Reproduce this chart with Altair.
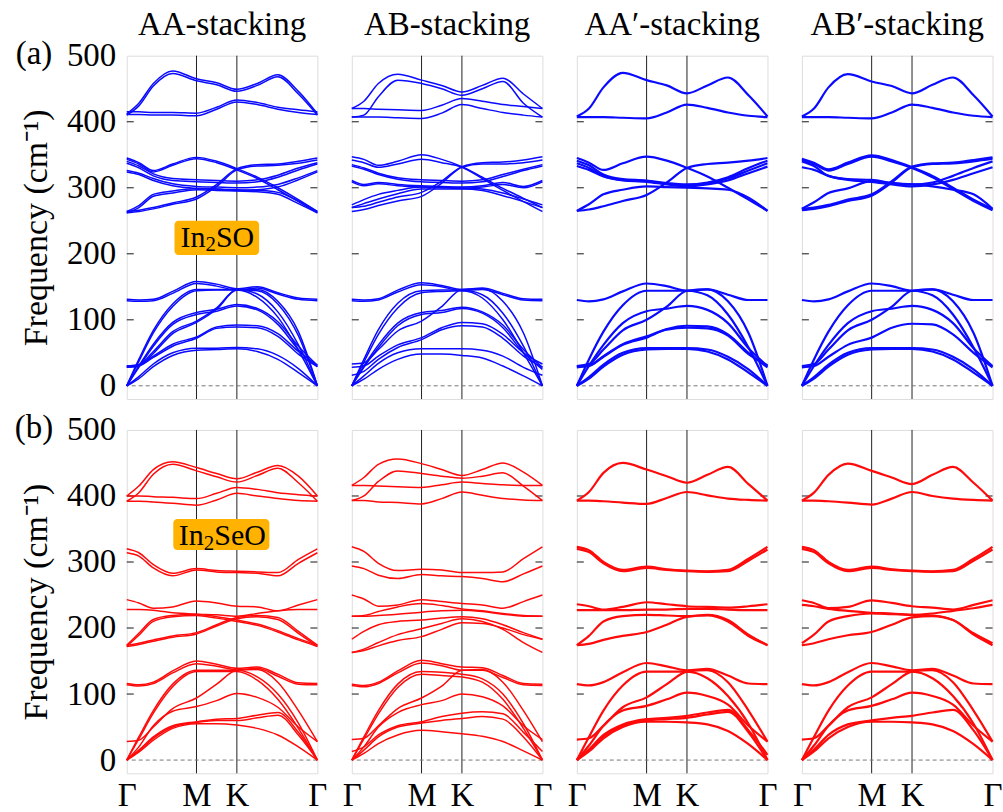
import altair as alt
import pandas as pd

# sample positions along the path Γ-M-K-Γ (path length in units of the reciprocal lattice)
K_PTS = [0.0, 0.1, 0.22, 0.38, 0.577, 0.744, 0.911, 1.08, 1.25, 1.42, 1.577]
K_LINES = [0.577, 0.911]
X_TICKS = [0.0, 0.577, 0.911, 1.577]
X_LABELS = ["Γ", "M", "K", "Γ"]
Y_TICKS = [0, 100, 200, 300, 400, 500]

COLUMN_TITLES = ["AA-stacking", "AB-stacking", "AA′-stacking", "AB′-stacking"]

# ---------------- In2SO phonon bands (cm^-1) ----------------
AA_S = [
    [412, 428, 458, 477, 465, 459, 449, 458, 471, 446, 412],
    [410, 424, 454, 473, 462, 456, 446, 455, 468, 442, 410],
    [415, 415, 414, 414, 413, 422, 433, 429, 422, 418, 415],
    [411, 411, 410, 410, 409, 419, 430, 426, 419, 414, 411],
    [345, 338, 326, 336, 346, 340, 329, 316, 300, 282, 264],
    [343, 336, 324, 334, 344, 338, 327, 314, 297, 279, 262],
    [264, 266, 270, 277, 286, 305, 329, 335, 336, 340, 345],
    [262, 264, 268, 275, 283, 302, 327, 333, 334, 337, 342],
    [340, 333, 321, 314, 312, 311, 310, 312, 319, 330, 338],
    [337, 330, 318, 311, 309, 308, 307, 309, 316, 327, 336],
    [326, 322, 314, 306, 302, 301, 300, 301, 305, 315, 326],
    [324, 320, 311, 303, 299, 298, 296, 297, 301, 312, 324],
    [264, 273, 290, 295, 299, 298, 297, 296, 293, 280, 264],
    [262, 270, 287, 292, 297, 296, 295, 294, 290, 276, 262],
    [131, 130, 131, 143, 158, 154, 147, 150, 141, 133, 131],
    [129, 128, 129, 140, 155, 151, 145, 148, 139, 131, 129],
    [0, 40, 84, 124, 146, 146, 146, 139, 112, 62, 0],
    [0, 37, 80, 120, 144, 145, 145, 134, 104, 54, 0],
    [0, 30, 63, 96, 111, 116, 123, 117, 97, 60, 31],
    [0, 28, 60, 93, 108, 113, 121, 115, 93, 55, 29],
    [30, 32, 52, 82, 98, 118, 146, 146, 128, 82, 0],
    [28, 30, 49, 79, 96, 116, 145, 144, 124, 76, 0],
    [30, 32, 45, 63, 74, 89, 92, 91, 79, 52, 31],
    [28, 30, 43, 60, 72, 87, 89, 88, 75, 48, 29],
    [0, 14, 33, 50, 57, 57, 58, 56, 46, 26, 0],
    [0, 11, 29, 46, 54, 55, 56, 52, 40, 20, 0],
]

AB_S = [
    [420, 431, 458, 472, 463, 455, 445, 455, 466, 442, 420],
    [407, 410, 438, 463, 458, 450, 440, 450, 461, 428, 407],
    [420, 420, 419, 418, 417, 425, 435, 431, 426, 423, 420],
    [407, 407, 407, 406, 405, 413, 426, 420, 414, 410, 407],
    [347, 343, 334, 340, 350, 343, 332, 316, 299, 284, 270],
    [342, 338, 331, 336, 343, 338, 331, 314, 296, 279, 264],
    [270, 272, 278, 286, 293, 310, 332, 338, 339, 342, 347],
    [264, 267, 273, 280, 287, 307, 331, 336, 336, 338, 342],
    [335, 330, 322, 315, 312, 311, 310, 312, 320, 328, 335],
    [333, 328, 320, 313, 309, 308, 307, 309, 317, 326, 333],
    [311, 305, 308, 305, 303, 302, 301, 303, 308, 302, 311],
    [309, 303, 306, 303, 301, 300, 299, 301, 305, 300, 309],
    [274, 282, 290, 296, 301, 301, 300, 298, 292, 283, 274],
    [270, 276, 283, 291, 298, 298, 298, 296, 288, 279, 270],
    [131, 130, 132, 145, 156, 152, 146, 148, 140, 132, 131],
    [129, 128, 130, 142, 153, 150, 144, 146, 138, 130, 129],
    [0, 40, 85, 125, 144, 145, 145, 138, 110, 60, 0],
    [0, 36, 78, 118, 141, 143, 144, 133, 100, 50, 0],
    [0, 30, 62, 95, 111, 114, 119, 112, 92, 55, 28],
    [0, 28, 58, 91, 108, 111, 117, 110, 88, 50, 25],
    [33, 35, 55, 83, 98, 120, 146, 147, 128, 80, 0],
    [28, 30, 45, 62, 73, 88, 96, 94, 78, 50, 33],
    [16, 22, 40, 58, 70, 85, 91, 89, 72, 45, 28],
    [0, 15, 34, 50, 56, 56, 56, 54, 45, 28, 16],
    [0, 10, 25, 40, 48, 48, 46, 42, 30, 15, 0],
]

AAP_S = [
    [408, 420, 452, 474, 463, 455, 443, 455, 467, 440, 408],
    [407, 407, 407, 406, 405, 414, 426, 421, 414, 409, 407],
    [345, 338, 327, 337, 347, 341, 330, 317, 300, 282, 265],
    [265, 267, 272, 280, 289, 308, 330, 336, 338, 341, 345],
    [341, 334, 320, 313, 311, 307, 305, 308, 316, 330, 341],
    [337, 330, 318, 312, 310, 306, 303, 306, 314, 326, 337],
    [333, 327, 317, 311, 309, 305, 302, 305, 311, 322, 332],
    [265, 275, 290, 297, 302, 301, 300, 299, 297, 285, 265],
    [130, 128, 131, 143, 155, 151, 144, 146, 138, 130, 130],
    [0, 40, 82, 122, 144, 144, 144, 137, 108, 58, 0],
    [0, 30, 62, 95, 113, 117, 121, 115, 95, 57, 30],
    [30, 33, 55, 84, 100, 120, 144, 146, 128, 80, 0],
    [28, 30, 44, 62, 73, 86, 91, 90, 78, 50, 28],
    [30, 31, 45, 63, 75, 85, 88, 87, 76, 48, 31],
    [0, 13, 32, 50, 57, 57, 57, 55, 44, 25, 0],
    [0, 11, 29, 47, 55, 56, 56, 52, 40, 20, 0],
]

ABP_S = [
    [408, 420, 452, 472, 461, 454, 443, 456, 467, 440, 408],
    [407, 407, 407, 406, 405, 414, 426, 421, 414, 409, 407],
    [344, 338, 328, 338, 349, 342, 331, 318, 300, 282, 268],
    [342, 336, 326, 336, 347, 340, 330, 316, 298, 280, 266],
    [266, 268, 272, 280, 288, 308, 331, 336, 337, 340, 344],
    [268, 270, 274, 282, 290, 310, 332, 337, 338, 342, 346],
    [268, 278, 292, 299, 310, 307, 305, 302, 297, 290, 268],
    [340, 333, 318, 313, 312, 307, 305, 308, 318, 330, 340],
    [331, 327, 318, 312, 309, 305, 302, 305, 312, 322, 331],
    [130, 128, 131, 143, 155, 151, 144, 146, 138, 130, 130],
    [0, 40, 82, 122, 144, 144, 144, 137, 108, 58, 0],
    [0, 30, 62, 95, 113, 117, 121, 115, 95, 57, 30],
    [30, 33, 55, 84, 100, 120, 144, 146, 128, 80, 0],
    [28, 30, 44, 62, 73, 88, 94, 93, 78, 50, 28],
    [0, 13, 32, 50, 57, 57, 57, 55, 44, 25, 0],
    [0, 11, 29, 47, 55, 56, 56, 52, 40, 20, 0],
]

# ---------------- In2SeO phonon bands (cm^-1) ----------------
AA_SE = [
    [400, 415, 440, 452, 443, 434, 426, 436, 446, 430, 400],
    [392, 405, 433, 448, 438, 429, 421, 431, 442, 420, 392],
    [400, 400, 399, 398, 396, 404, 413, 410, 405, 402, 400],
    [392, 392, 391, 389, 386, 394, 404, 400, 396, 393, 392],
    [320, 314, 296, 283, 290, 287, 286, 285, 284, 304, 320],
    [314, 309, 291, 279, 288, 285, 284, 283, 279, 298, 314],
    [243, 238, 230, 232, 241, 238, 233, 232, 226, 235, 243],
    [228, 228, 227, 223, 221, 220, 218, 222, 226, 228, 228],
    [174, 192, 213, 219, 221, 217, 212, 206, 196, 184, 174],
    [172, 189, 210, 217, 219, 215, 210, 204, 194, 182, 172],
    [174, 177, 182, 188, 193, 205, 216, 219, 216, 195, 174],
    [172, 175, 180, 186, 191, 203, 214, 217, 213, 192, 172],
    [116, 114, 118, 135, 150, 145, 139, 141, 130, 117, 116],
    [114, 112, 116, 132, 146, 142, 137, 139, 127, 115, 114],
    [0, 35, 75, 115, 136, 136, 136, 126, 100, 56, 0],
    [0, 32, 71, 111, 134, 134, 134, 121, 92, 48, 0],
    [28, 30, 50, 78, 94, 115, 136, 137, 118, 75, 28],
    [0, 20, 52, 74, 81, 90, 101, 95, 80, 50, 28],
    [0, 15, 35, 52, 58, 62, 63, 68, 72, 42, 0],
    [0, 14, 33, 50, 57, 60, 60, 64, 68, 38, 0],
    [0, 12, 30, 48, 55, 55, 53, 48, 38, 20, 0],
]

AB_SE = [
    [416, 428, 448, 456, 449, 440, 431, 440, 450, 436, 416],
    [393, 400, 422, 438, 434, 430, 427, 430, 435, 415, 393],
    [416, 416, 415, 414, 413, 417, 421, 419, 417, 416, 416],
    [393, 393, 391, 390, 388, 396, 406, 401, 396, 394, 393],
    [323, 316, 298, 287, 289, 288, 284, 284, 285, 305, 323],
    [294, 290, 280, 275, 281, 279, 278, 275, 270, 282, 294],
    [250, 244, 233, 235, 243, 240, 237, 235, 230, 240, 250],
    [218, 219, 225, 232, 237, 234, 229, 226, 222, 219, 218],
    [218, 218, 219, 221, 224, 226, 227, 225, 221, 218, 218],
    [183, 195, 205, 210, 212, 215, 217, 214, 205, 193, 183],
    [163, 168, 178, 190, 199, 207, 214, 210, 198, 178, 163],
    [163, 166, 173, 181, 187, 198, 208, 207, 200, 190, 183],
    [115, 113, 118, 135, 151, 146, 141, 140, 128, 116, 115],
    [113, 111, 116, 132, 147, 143, 136, 136, 125, 114, 113],
    [0, 35, 75, 115, 134, 133, 130, 123, 100, 55, 0],
    [0, 32, 70, 110, 130, 128, 126, 118, 92, 48, 0],
    [31, 33, 52, 78, 94, 112, 136, 137, 118, 75, 28],
    [0, 20, 50, 72, 84, 90, 100, 96, 82, 52, 31],
    [13, 20, 38, 52, 58, 66, 71, 73, 70, 42, 13],
    [0, 15, 35, 50, 56, 60, 63, 66, 62, 35, 0],
    [0, 10, 25, 38, 45, 43, 40, 36, 28, 14, 0],
]

AAP_SE = [
    [393, 406, 435, 450, 440, 430, 420, 432, 444, 418, 393],
    [393, 393, 392, 390, 388, 397, 406, 401, 396, 394, 393],
    [323, 318, 300, 288, 293, 289, 287, 286, 288, 305, 323],
    [320, 315, 298, 286, 291, 288, 286, 285, 286, 302, 319],
    [236, 233, 228, 232, 239, 236, 233, 232, 231, 233, 236],
    [227, 227, 227, 227, 228, 228, 229, 229, 228, 227, 227],
    [174, 188, 210, 218, 220, 219, 218, 220, 212, 190, 174],
    [174, 176, 182, 188, 194, 205, 217, 219, 210, 188, 174],
    [115, 113, 118, 133, 147, 142, 136, 138, 128, 116, 115],
    [0, 35, 75, 113, 134, 134, 134, 124, 97, 55, 0],
    [31, 33, 52, 80, 95, 115, 134, 136, 118, 75, 28],
    [0, 22, 52, 75, 82, 92, 102, 97, 84, 52, 28],
    [0, 16, 38, 54, 62, 64, 67, 72, 76, 45, 8],
    [0, 15, 36, 52, 60, 62, 64, 69, 73, 42, 0],
    [0, 13, 33, 50, 58, 58, 57, 54, 44, 24, 0],
]

ABP_SE = [
    [393, 405, 432, 449, 438, 428, 418, 432, 444, 420, 393],
    [393, 393, 392, 390, 387, 396, 406, 400, 396, 394, 393],
    [323, 318, 300, 288, 293, 289, 287, 286, 288, 305, 323],
    [320, 315, 298, 286, 291, 288, 286, 285, 286, 302, 319],
    [242, 238, 230, 232, 242, 238, 233, 231, 228, 235, 242],
    [235, 233, 229, 226, 223, 222, 220, 222, 226, 230, 235],
    [177, 190, 210, 218, 222, 221, 220, 219, 212, 192, 177],
    [174, 177, 183, 189, 194, 205, 216, 218, 212, 190, 174],
    [115, 113, 118, 133, 147, 142, 136, 138, 128, 116, 115],
    [0, 35, 75, 113, 134, 134, 134, 124, 97, 55, 0],
    [31, 33, 52, 80, 95, 115, 134, 136, 118, 75, 28],
    [0, 22, 52, 75, 82, 92, 102, 97, 84, 52, 28],
    [0, 16, 38, 54, 60, 64, 67, 72, 76, 45, 0],
    [0, 13, 33, 50, 58, 58, 57, 54, 44, 24, 0],
]

# ---------------- styling ----------------
W, H = 191, 344
GAP_X, GAP_Y = 34.5, 31
SERIF = "Liberation Serif, Times New Roman, serif"
FS = 33
FS_TITLE_Y = 34
BLUE = "#0a0aff"
RED = "#ff0a0a"
FRAME = "#3c3c3c"
LABEL_BG = "#ffb300"

X_SCALE = alt.Scale(domain=[0, 1.577], nice=False, zero=False)
Y_SCALE = alt.Scale(domain=[-20, 500], nice=False, zero=False)

XLAB_EXPR = " : ".join(
    f"abs(datum.value - {v}) < 0.01 ? '{lab}'" for v, lab in zip(X_TICKS, X_LABELS)
) + " : ''"


def x_enc(bottom):
    if bottom:
        ax = alt.Axis(values=X_TICKS, labelExpr=XLAB_EXPR, labelFont=SERIF,
                      labelFontSize=FS, labelColor="black", labelPadding=6,
                      ticks=False, domain=False, grid=False, title=None,
                      labelFlush=False, labelOverlap=False)
        return alt.X("k:Q", scale=X_SCALE, axis=ax)
    return alt.X("k:Q", scale=X_SCALE, axis=None)


def y_enc(first):
    if first:
        ax = alt.Axis(values=Y_TICKS, labelFont=SERIF, labelFontSize=FS,
                      labelColor="black", labelPadding=11, ticks=False,
                      domain=False, grid=False, title="Frequency (cm⁻¹)",
                      titleFont=SERIF, titleFontSize=FS_TITLE_Y, titleFontWeight="normal",
                      titleColor="black", titlePadding=13)
        return alt.Y("f:Q", scale=Y_SCALE, axis=ax)
    return alt.Y("f:Q", scale=Y_SCALE, axis=None)


def text_at(txt, x, y, size=FS, align="center", baseline="middle"):
    """A fixed text placed in the panel's pixel frame (titles and tags)."""
    return alt.Chart(pd.DataFrame({"t": [txt]})).mark_text(
        font=SERIF, fontSize=size, color="black", align=align, baseline=baseline
    ).encode(text="t:N", x=alt.value(x), y=alt.value(y))


def panel(bands, color, width_line, first=False, bottom=False, title=None,
          tag=None, formula=None):
    rows = [{"k": k, "f": f, "band": i}
            for i, b in enumerate(bands) for k, f in zip(K_PTS, b)]
    df = pd.DataFrame(rows)

    lines = alt.Chart(df).mark_line(
        color=color, strokeWidth=width_line, interpolate="monotone"
    ).encode(x=x_enc(bottom), y=y_enc(first), detail="band:N")

    sym = alt.Chart(pd.DataFrame({"k": K_LINES})).mark_rule(
        color="#222", strokeWidth=1
    ).encode(x=x_enc(bottom))

    zero = alt.Chart(pd.DataFrame({"f": [0]})).mark_rule(
        color="#777", strokeWidth=1, strokeDash=[4, 3]
    ).encode(y=y_enc(first))

    tick_df = pd.DataFrame({"f": Y_TICKS[1:-1]})
    ticks_l = alt.Chart(tick_df).mark_rule(color=FRAME, strokeWidth=1.2).encode(
        y=y_enc(first), x=alt.value(0), x2=alt.value(7))
    ticks_r = alt.Chart(tick_df).mark_rule(color=FRAME, strokeWidth=1.2).encode(
        y=y_enc(first), x=alt.value(W - 7), x2=alt.value(W))

    layers = [sym, zero, ticks_l, ticks_r, lines]

    if title is not None:
        layers.append(text_at(title, W / 2, -21, baseline="alphabetic"))

    if tag is not None:
        layers.append(text_at(tag, -93, -2))

    if formula is not None:
        x0, x1, y0, y1, xt, yt, parts = formula
        box = alt.Chart(pd.DataFrame({"k": [x0], "k2": [x1], "f": [y0], "f2": [y1]})).mark_rect(
            color=LABEL_BG, cornerRadius=4
        ).encode(x=x_enc(bottom), x2="k2:Q", y=y_enc(first), y2="f2:Q")
        layers.append(box)
        for txt, size, dx, drop in parts:
            layers.append(alt.Chart(pd.DataFrame({"k": [xt], "f": [yt], "t": [txt]})).mark_text(
                font=SERIF, fontSize=size, color="black", align="left",
                baseline="alphabetic", dx=dx, dy=drop
            ).encode(x=x_enc(bottom), y=y_enc(first), text="t:N"))

    return alt.layer(*layers).properties(width=W, height=H)


S_FORMULA = (0.395, 1.095, 198, 250, 0.445, 211,
             [("In", 30, 0, 0), ("2", 21, 25, 5), ("SO", 30, 35.5, 0)])
SE_FORMULA = (0.385, 1.18, 318, 365, 0.431, 326,
              [("In", 30, 0, 0), ("2", 21, 25, 5), ("SeO", 30, 35.5, 0)])

panels = [
    panel(AA_S, BLUE, 1.5, first=True, title=COLUMN_TITLES[0], tag="(a)", formula=S_FORMULA),
    panel(AB_S, BLUE, 1.5, title=COLUMN_TITLES[1]),
    panel(AAP_S, BLUE, 2.2, title=COLUMN_TITLES[2]),
    panel(ABP_S, BLUE, 2.2, title=COLUMN_TITLES[3]),
    panel(AA_SE, RED, 1.5, first=True, bottom=True, tag="(b)", formula=SE_FORMULA),
    panel(AB_SE, RED, 1.5, bottom=True),
    panel(AAP_SE, RED, 2.2, bottom=True),
    panel(ABP_SE, RED, 2.2, bottom=True),
]

chart = alt.concat(
    *panels, columns=4, spacing={"row": GAP_Y, "column": GAP_X}, bounds="flush"
).properties(
    padding={"left": 14, "top": 7, "right": 0, "bottom": 0}
).configure_view(
    stroke=FRAME, strokeWidth=1.5
).configure(background="white")

chart.save("out.html", embed_options={"renderer": "svg", "actions": False})
